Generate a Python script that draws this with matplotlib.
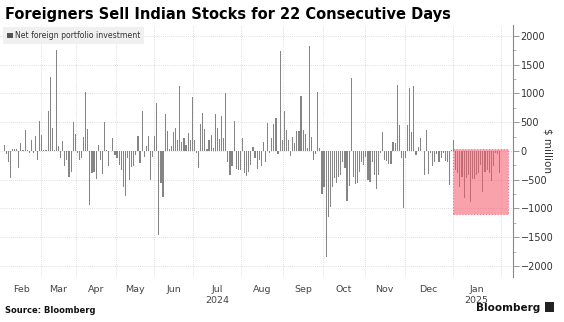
import numpy as np
import matplotlib
matplotlib.use("Agg")
import matplotlib.pyplot as plt
from matplotlib.patches import Patch, Rectangle

# daily net foreign portfolio investment, $ million (trading days, Feb 2024 - Jan 2025)
feb = [100, -50, -185, -475, 35, 40, 30, -300, 133, 20, 365, 20, -30, 190, -30, 260, -155, 520]
mar = [280, 10, 15, 700, 1290, 400, 10, 1755, 90, -127, 170, -255, -155, -446, -360, 500, 290]
apr = [-40, -150, -115, 240, 1030, 380, -940, -390, -375, -490, 105, -155, -400, 510, 20, -270, 0, 220, -70]
may = [-130, -245, -330, -620, -775, -130, -505, -285, -270, -70, 265, -215, 700, -100, 90, 265, -505, -100]
jun = [265, 830, -1460, -560, -795, 640, 350, 30, 90, 335, 395, 190, 1120, 160, 220, 105, 305, 190, 945]
jul = [190, -40, -290, 470, 665, 380, 30, 190, 280, 45, 645, 405, 200, 615, 220, 1000, -185, -420, -255,
       520, -315, -330, -340]
aug = [220, -390, -430, -360, -245, 65, -130, -315, -155, -270, 150, -195, 480, -40, 220, 470, 580, -60,
       1740, 190]
sep = [695, 365, 190, -85, 245, 135, 350, 350, 955, 365, 290, 45, 1830, 250, -155, -60, 1030, 45, -755]
oct_ = [-620, -1840, -1140, -970, -620, -475, -560, -445, -420, -185, -300, -865, -610, 1275, -445, -580,
        -560, -360, -185, -245]
nov = [-100, -505, -535, -185, -420, -660, -420, -40, 335, -155, -175, -230, -230, 160, 135, 1150, 450,
       -115, -995]
dec = [-115, 450, 1100, 335, 1130, -70, 75, 220, 0, -420, 365, -405, -40, -270, -195, -50, -185, -115,
       -30, -175, -185, -600, 20]
jan = [190, -330, -390, -620, -445, -810, -475, -420, -880, -485, -485, -420, -390, -245, -720, -360,
       -330, -390, -515, -270, -40, -60, -390]

months = [feb, mar, apr, may, jun, jul, aug, sep, oct_, nov, dec, jan]
month_labels = ['Feb', 'Mar', 'Apr', 'May', 'Jun', 'Jul\n2024', 'Aug', 'Sep', 'Oct', 'Nov', 'Dec', 'Jan\n2025']
streak_days = 22

values = np.concatenate(months)
x = np.arange(len(values))
lengths = np.array([len(m) for m in months])
starts = np.concatenate([[0], np.cumsum(lengths)])
bounds = starts - 0.5
centers = (bounds[:-1] + bounds[1:]) / 2

fig = plt.figure(figsize=(5.64, 3.22), dpi=100)
ax = fig.add_axes([0.0, 0.14, 0.9096, 0.7826])

ax.bar(x, values, width=0.55, color='#858585', linewidth=0, zorder=2)

# highlight the selling streak
s0 = len(values) - streak_days
lo = values[s0:].min() - 220
hi = 30
box = Rectangle((s0 - 1.5, lo), streak_days + 4.5, hi - lo, facecolor='#f65768', alpha=0.55,
                edgecolor='#e0304a', linestyle=':', linewidth=0.8, zorder=3)
ax.add_patch(box)

ax.set_xlim(-2.0, 243.4)
ax.set_ylim(-2190, 2190)

# grid
ax.set_xticks(bounds[1:])
ax.set_xticks(centers, minor=True)
ax.set_xticklabels([])
ax.set_xticklabels(month_labels, minor=True, fontsize=6.8, color='#444444')
ax.tick_params(axis='x', which='both', length=0, pad=6)
ax.grid(axis='x', which='major', color='#d4d4d4', linestyle=(0, (1, 1.5)), linewidth=0.6, zorder=0)

ax.yaxis.tick_right()
ax.set_yticks(np.arange(-2000, 2001, 500))
ax.set_yticks(np.arange(-2000, 2001, 250), minor=True)
ax.tick_params(axis='y', which='major', length=4, width=0.6, color='#888888', labelsize=7,
               labelcolor='#333333', pad=1.5)
ax.tick_params(axis='y', which='minor', length=2.5, width=0.6, color='#aaaaaa')
ax.grid(axis='y', which='major', color='#d4d4d4', linestyle=(0, (1, 1.5)), linewidth=0.6, zorder=0)

for side in ['top', 'left', 'bottom']:
    ax.spines[side].set_visible(False)
ax.spines['right'].set_color('#888888')
ax.spines['right'].set_linewidth(0.8)

leg = ax.legend(handles=[Patch(facecolor='#555555')], labels=['Net foreign portfolio investment'],
                loc='upper left', bbox_to_anchor=(0.002, 1.0), fontsize=5.6, frameon=True,
                handlelength=0.7, handleheight=0.7, handletextpad=0.3, borderpad=0.5,
                borderaxespad=0.3, fancybox=False)
leg.get_frame().set_facecolor('#f0f0f0')
leg.get_frame().set_edgecolor('none')
leg.get_frame().set_alpha(1)
for t in leg.get_texts():
    t.set_color('#333333')

fig.text(0.971, 0.534, '$ million', rotation=270, fontsize=7.5, color='#333333',
         ha='center', va='center')
fig.text(0.009, 0.955, 'Foreigners Sell Indian Stocks for 22 Consecutive Days', fontsize=10.5,
         fontweight='bold', color='black', va='center', ha='left')
fig.text(0.009, 0.035, 'Source: Bloomberg', fontsize=6, fontweight='bold', color='#111111',
         va='center', ha='left')
fig.text(0.958, 0.045, 'Bloomberg', fontsize=7.5, fontweight='bold', color='#111111',
         va='center', ha='right')
fig.patches.append(Rectangle((0.966, 0.030), 0.016, 0.032, transform=fig.transFigure,
                             facecolor='#222222', edgecolor='none'))

fig.savefig('out.png', dpi=100)
